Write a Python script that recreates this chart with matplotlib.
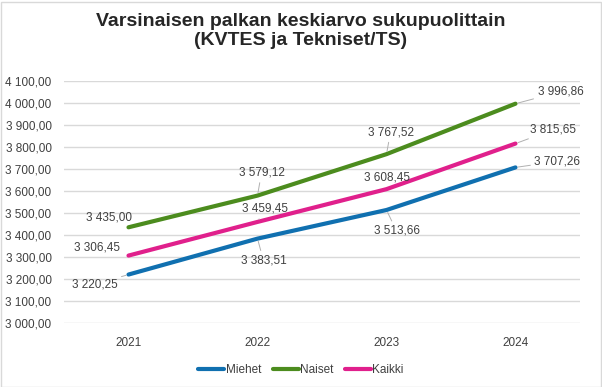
import matplotlib.pyplot as plt
from matplotlib.patches import Rectangle
from matplotlib.ticker import FuncFormatter

years = ["2021", "2022", "2023", "2024"]
miehet = [3220.25, 3383.51, 3513.66, 3707.26]
naiset = [3435.00, 3579.12, 3767.52, 3996.86]
kaikki = [3306.45, 3459.45, 3608.45, 3815.65]

# label offsets in pixels (dx, dy) and whether a leader line is drawn
off_miehet = [(-34, -10, True), (6, -22, True), (10, -21, True), (42, 6, True)]
off_naiset = [(-19, 10, False), (4, 23, True), (4, 22, True), (45, 12, True)]
off_kaikki = [(-31, 8, False), (7, 13, True), (1, 12, False), (38, 14, True)]


def fmt(v, pos=None):
    s = "{:,.2f}".format(v)
    return s.replace(",", " ").replace(".", ",")


def main():
    plt.rcParams['font.family'] = ['Liberation Sans', 'DejaVu Sans']
    fig = plt.figure(figsize=(6.02, 3.87), dpi=100)
    ax = fig.add_axes([64 / 602, 1 - 323 / 387, 516 / 602, 242 / 387])

    x = range(len(years))
    series = [
        ("Miehet", miehet, "#1070b0", off_miehet),
        ("Naiset", naiset, "#4c8c1e", off_naiset),
        ("Kaikki", kaikki, "#e0208c", off_kaikki),
    ]
    for name, vals, col, offs in series:
        ax.plot(x, vals, color=col, lw=3, solid_capstyle="round",
                label=name, zorder=3)
        for xi, v, (dx, dy, lead) in zip(x, vals, offs):
            ap = None
            if lead:
                ap = dict(arrowstyle="-", color="#b0b0b0", lw=0.7,
                          shrinkA=1, shrinkB=2)
            ax.annotate(fmt(v), (xi, v), xytext=(dx, dy),
                        textcoords="offset pixels", ha="center", va="center",
                        fontsize=8.5, color="#404040", arrowprops=ap,
                        zorder=4)

    ax.set_xlim(-0.5, 3.5)
    ax.set_ylim(3000, 4100)
    ax.set_yticks(range(3000, 4101, 100))
    ax.yaxis.set_major_formatter(FuncFormatter(fmt))
    ax.set_xticks(list(x))
    ax.set_xticklabels(years)
    ax.tick_params(length=0, labelsize=8.5, colors="#404040")
    ax.tick_params(axis="x", pad=10)
    ax.tick_params(axis="y", pad=9)
    ax.grid(axis="y", color="#d9d9d9", lw=1)
    ax.set_axisbelow(True)
    for s in ax.spines.values():
        s.set_visible(False)

    fig.text(0.5, 1 - 31 / 387,
             "Varsinaisen palkan keskiarvo sukupuolittain\n(KVTES ja Tekniset/TS)",
             ha="center", va="center", fontsize=14, fontweight="bold",
             color="#262626", linespacing=1.2)

    fig.legend(loc="center", bbox_to_anchor=(0.5, 1 - 370 / 387), ncol=3,
               frameon=False, fontsize=8.5, handlelength=2.2,
               handletextpad=0.1, columnspacing=1.0, labelcolor="#404040")

    fig.patches.append(Rectangle((0.5 / 602, 0.5 / 387), 600 / 602, 385 / 387,
                                 transform=fig.transFigure, fill=False,
                                 edgecolor="#d9d9d9", lw=1))
    fig.savefig("out.png", dpi=100)


if __name__ == '__main__':
    main()
